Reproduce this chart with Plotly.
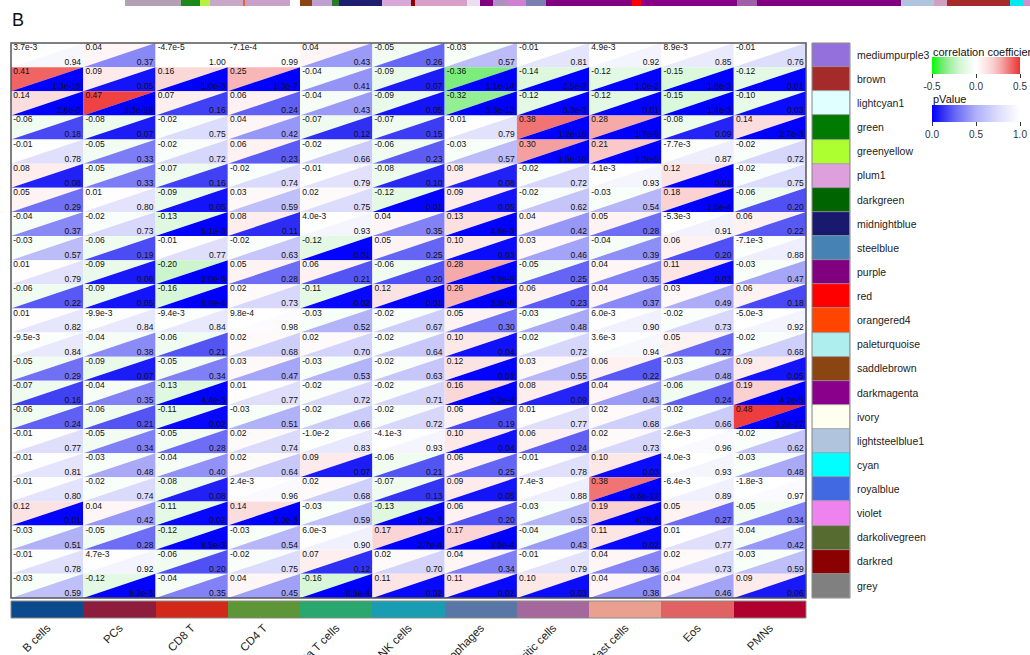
import numpy as np
import plotly.graph_objects as go
from plotly.colors import sample_colorscale

W, H = 1030, 655

cell_types = ["B cells", "PCs", "CD8 T", "CD4 T", "Delta T cells", "NK cells",
              "Macrophages", "Dendritic cells", "Mast cells", "Eos", "PMNs"]
cell_colors = ["#0B4A8C", "#8E1C3C", "#D1281A", "#5E9637", "#28A86E", "#1A9DB2",
               "#5876A6", "#A5689C", "#E9A090", "#E06262", "#B0002E"]

modules = ["mediumpurple3", "brown", "lightcyan1", "green", "greenyellow", "plum1",
           "darkgreen", "midnightblue", "steelblue", "purple", "red", "orangered4",
           "paleturquoise", "saddlebrown", "darkmagenta", "ivory", "lightsteelblue1",
           "cyan", "royalblue", "violet", "darkolivegreen", "darkred", "grey"]
module_colors = ["#9370DB", "#A52A2A", "#E0FFFF", "#007A00", "#ADFF2F", "#DDA0DD",
                 "#006400", "#191970", "#4682B4", "#800080", "#FF0000", "#FF4500",
                 "#AFEEEE", "#8B4513", "#8B008B", "#FFFFF0", "#B0C4DE", "#00FFFF",
                 "#4169E1", "#EE82EE", "#556B2F", "#8B0000", "#808080"]

# correlation coefficients (rows = modules, columns = cell types)
cor = [
    [3.7e-3, 0.04, -4.7e-5, -7.1e-4, 0.04, -0.05, -0.03, -0.01, 4.9e-3, 8.9e-3, -0.01],
    [0.41, 0.09, 0.16, 0.25, -0.04, -0.09, -0.36, -0.14, -0.12, -0.15, -0.12],
    [0.14, 0.47, 0.07, 0.06, -0.04, -0.09, -0.32, -0.12, -0.12, -0.15, -0.10],
    [-0.06, -0.08, -0.02, 0.04, -0.07, -0.07, -0.01, 0.38, 0.28, -0.08, 0.14],
    [-0.01, -0.05, -0.02, 0.06, -0.02, -0.06, -0.03, 0.30, 0.21, -7.7e-3, -0.02],
    [0.08, -0.05, -0.07, -0.02, -0.01, -0.08, 0.08, -0.02, 4.1e-3, 0.12, -0.02],
    [0.05, 0.01, -0.09, 0.03, 0.02, -0.12, 0.09, -0.02, -0.03, 0.18, -0.06],
    [-0.04, -0.02, -0.13, 0.08, 4.0e-3, 0.04, 0.13, 0.04, 0.05, -5.3e-3, 0.06],
    [-0.03, -0.06, -0.01, -0.02, -0.12, 0.05, 0.10, 0.03, -0.04, 0.06, -7.1e-3],
    [0.01, -0.09, -0.20, 0.05, 0.06, -0.06, 0.28, -0.05, 0.04, 0.11, -0.03],
    [-0.06, -0.09, -0.16, 0.02, -0.11, 0.12, 0.26, 0.06, 0.04, 0.03, 0.06],
    [0.01, -9.9e-3, -9.4e-3, 9.8e-4, -0.03, -0.02, 0.05, -0.03, 6.0e-3, -0.02, -5.0e-3],
    [-9.5e-3, -0.04, -0.06, 0.02, 0.02, -0.02, 0.10, -0.02, 3.6e-3, 0.05, -0.02],
    [-0.05, -0.09, -0.05, 0.03, -0.03, -0.02, 0.12, 0.03, 0.06, -0.03, 0.09],
    [-0.07, -0.04, -0.13, 0.01, -0.02, -0.02, 0.16, 0.08, 0.04, -0.06, 0.19],
    [-0.06, -0.06, -0.11, -0.03, -0.02, -0.02, 0.06, 0.01, 0.02, -0.02, 0.48],
    [-0.01, -0.05, -0.05, 0.02, -0.00998, -4.1e-3, 0.10, 0.06, 0.02, -2.6e-3, -0.02],
    [-0.01, -0.03, -0.04, 0.02, 0.09, -0.06, 0.06, -0.01, 0.10, -4.0e-3, -0.03],
    [-0.01, -0.02, -0.08, 2.4e-3, 0.02, -0.07, 0.09, 7.4e-3, 0.38, -6.4e-3, -1.8e-3],
    [0.12, 0.04, -0.11, 0.14, -0.03, -0.13, 0.06, -0.03, 0.19, 0.05, -0.05],
    [-0.03, -0.05, -0.12, -0.03, 6.0e-3, 0.17, 0.17, -0.04, 0.11, 0.01, -0.04],
    [-0.01, 4.7e-3, -0.06, -0.02, 0.07, 0.02, 0.04, -0.01, 0.04, 0.02, -0.03],
    [-0.03, -0.12, -0.04, 0.04, -0.16, 0.11, 0.11, 0.10, 0.04, 0.04, 0.09],
]

# p values for the same pairs
pval = [
    [0.94, 0.37, 0.9999, 0.99, 0.43, 0.26, 0.57, 0.81, 0.92, 0.85, 0.76],
    [1.3e-19, 0.05, 1.0e-3, 1.3e-7, 0.41, 0.07, 1.1e-14, 2.5e-3, 0.00998, 1.8e-3, 0.01],
    [2.6e-3, 3.3e-28, 0.16, 0.24, 0.43, 0.05, 3.3e-12, 8.3e-3, 0.01, 1.4e-3, 0.03],
    [0.18, 0.07, 0.75, 0.42, 0.12, 0.15, 0.79, 1.2e-16, 1.7e-9, 0.09, 2.7e-3],
    [0.78, 0.33, 0.72, 0.23, 0.66, 0.23, 0.57, 1.6e-10, 1.3e-5, 0.87, 0.72],
    [0.08, 0.33, 0.16, 0.74, 0.79, 0.10, 0.08, 0.72, 0.93, 0.01, 0.75],
    [0.29, 0.80, 0.05, 0.59, 0.75, 0.01, 0.05, 0.62, 0.54, 1.5e-4, 0.20],
    [0.37, 0.73, 5.1e-3, 0.11, 0.93, 0.35, 4.6e-3, 0.42, 0.28, 0.91, 0.22],
    [0.57, 0.19, 0.77, 0.63, 0.01, 0.25, 0.03, 0.46, 0.39, 0.20, 0.88],
    [0.79, 0.06, 2.0e-5, 0.28, 0.21, 0.20, 3.2e-9, 0.25, 0.35, 0.03, 0.47],
    [0.22, 0.05, 6.9e-4, 0.73, 0.02, 0.01, 3.3e-8, 0.23, 0.37, 0.49, 0.18],
    [0.82, 0.84, 0.84, 0.98, 0.52, 0.67, 0.30, 0.48, 0.90, 0.73, 0.92],
    [0.84, 0.38, 0.21, 0.68, 0.70, 0.64, 0.04, 0.72, 0.94, 0.27, 0.68],
    [0.29, 0.07, 0.34, 0.47, 0.53, 0.63, 0.01, 0.55, 0.22, 0.48, 0.05],
    [0.16, 0.35, 4.4e-3, 0.77, 0.72, 0.71, 5.2e-4, 0.09, 0.43, 0.24, 4.2e-5],
    [0.24, 0.21, 0.02, 0.51, 0.66, 0.72, 0.19, 0.77, 0.68, 0.66, 3.2e-27],
    [0.77, 0.34, 0.28, 0.74, 0.83, 0.93, 0.04, 0.24, 0.73, 0.96, 0.62],
    [0.81, 0.48, 0.40, 0.64, 0.07, 0.21, 0.25, 0.78, 0.03, 0.93, 0.48],
    [0.80, 0.74, 0.08, 0.96, 0.68, 0.13, 0.05, 0.88, 6.6e-17, 0.89, 0.97],
    [0.01, 0.42, 0.02, 3.0e-3, 0.59, 6.2e-3, 0.20, 0.53, 4.7e-5, 0.27, 0.34],
    [0.51, 0.28, 8.5e-3, 0.54, 0.90, 2.7e-4, 3.9e-4, 0.43, 0.02, 0.77, 0.42],
    [0.78, 0.92, 0.20, 0.75, 0.12, 0.70, 0.34, 0.79, 0.36, 0.73, 0.59],
    [0.59, 9.3e-3, 0.35, 0.45, 8.5e-4, 0.02, 0.02, 0.03, 0.38, 0.46, 0.06],
]

# module colour strip of the gene dendrogram (colour, number of genes)
strip_colors = ["#B4A0B4", "#1A8A1A", "#B8F040", "#C8A8C8", "#F06030", "#C8A0C8",
                "#FFFFFF", "#8B4513", "#C0A0D0", "#2A7A2A", "#1E1E70", "#D8A8D8",
                "#8B0000", "#D8A0C8", "#E8E0F0", "#800080", "#B090C0", "#D080D0",
                "#7A80B0", "#800080", "#FF0000", "#880088", "#A060A8", "#800080",
                "#B0C4DE", "#D0A0C0", "#A52A2A", "#00E8F0", "#D090D0"]
strip_sizes = [56, 19, 10, 33, 2, 45, 10, 12, 20, 7, 43, 29, 4, 52, 13, 13, 14, 19,
               20, 86, 9, 96, 20, 144, 33, 13, 63, 13, 7]

cor_scale = [[0.0, "rgb(0,255,0)"], [0.1, "rgb(100,235,100)"], [0.2, "rgb(160,240,160)"],
             [0.3, "rgb(205,245,205)"], [0.4, "rgb(232,250,232)"], [0.5, "rgb(255,255,255)"],
             [0.6, "rgb(253,232,232)"], [0.7, "rgb(250,205,205)"], [0.8, "rgb(245,160,160)"],
             [0.9, "rgb(240,105,105)"], [1.0, "rgb(238,50,50)"]]
p_scale = [[0.0, "rgb(0,0,255)"], [0.1, "rgb(40,40,245)"], [0.25, "rgb(100,100,245)"],
           [0.5, "rgb(175,175,248)"], [0.75, "rgb(220,220,252)"], [1.0, "rgb(255,255,255)"]]

FONT = "Liberation Sans, Arial, sans-serif"


def fmt(v):
    if abs(v) < 0.01 and v != 0:
        m, e = ("%.1e" % v).split("e")
        return "%se%d" % (m, int(e))
    return "%.2f" % v


def px_x(px):
    return px / W


def px_y(py):
    return 1 - py / H


nr, nc = len(modules), len(cell_types)
cor_arr = np.array(cor)
p_arr = np.array(pval)

shapes = []
for r in range(nr):
    cfill = sample_colorscale(cor_scale, list((cor_arr[r] + 0.5) / 1.0))
    pfill = sample_colorscale(p_scale, list(p_arr[r]))
    for c in range(nc):
        x0, x1 = c - 0.5, c + 0.5
        y0, y1 = r - 0.5, r + 0.5
        # upper-left triangle: correlation
        shapes.append(dict(type="path", xref="x", yref="y", layer="below",
                           path=f"M{x0},{y0} L{x1},{y0} L{x0},{y1} Z",
                           fillcolor=cfill[c], line=dict(width=0)))
        # lower-right triangle: p value
        shapes.append(dict(type="path", xref="x", yref="y", layer="below",
                           path=f"M{x1},{y0} L{x1},{y1} L{x0},{y1} Z",
                           fillcolor=pfill[c], line=dict(width=0)))

# thin separators between cells
for c in range(1, nc):
    shapes.append(dict(type="line", xref="x", yref="y domain", layer="below",
                       x0=c - 0.5, x1=c - 0.5, y0=0, y1=1,
                       line=dict(color="rgba(255,255,255,0.8)", width=1)))
for r in range(1, nr):
    shapes.append(dict(type="line", xref="x domain", yref="y", layer="below",
                       x0=0, x1=1, y0=r - 0.5, y1=r - 0.5,
                       line=dict(color="rgba(255,255,255,0.8)", width=1)))
# frames
shapes.append(dict(type="rect", xref="x domain", yref="y domain", x0=0, x1=1, y0=0, y1=1,
                   line=dict(color="#555555", width=1.5)))
shapes.append(dict(type="rect", xref="x domain", yref="y2 domain", x0=0, x1=1, y0=0, y1=1,
                   line=dict(color="#888888", width=1)))
shapes.append(dict(type="rect", xref="x3 domain", yref="y3 domain", x0=0, x1=1, y0=0, y1=1,
                   line=dict(color="#888888", width=1)))

fig = go.Figure()

# correlation labels (top-left) and p-value labels (bottom-right)
cx, cy, ct = [], [], []
px_, py_, pt = [], [], []
for r in range(nr):
    for c in range(nc):
        cx.append(c - 0.47)
        cy.append(r - 0.47)
        ct.append(fmt(cor[r][c]))
        px_.append(c + 0.47)
        py_.append(r + 0.5)
        pt.append(fmt(pval[r][c]))

fig.add_trace(go.Scatter(x=cx, y=cy, text=ct, mode="text", textposition="bottom right",
                         textfont=dict(family=FONT, size=8.5, color="#111111"),
                         hoverinfo="skip", showlegend=False))
fig.add_trace(go.Scatter(x=px_, y=py_, text=pt, mode="text", textposition="top left",
                         textfont=dict(family=FONT, size=8.5, color="#111111"),
                         hoverinfo="skip", showlegend=False))

# colour scales
gx = [c for r in range(nr) for c in range(nc)]
gy = [r for r in range(nr) for c in range(nc)]
cb_common = dict(orientation="h", x=px_x(932), xanchor="left", yanchor="top",
                 lenmode="pixels", len=88, thickness=17, xpad=0, ypad=0, outlinewidth=0,
                 ticks="outside", ticklen=4, tickcolor="#333",
                 tickfont=dict(family=FONT, size=10, color="#333"))
fig.add_trace(go.Scatter(
    x=gx, y=gy, mode="markers", hoverinfo="skip", showlegend=False,
    marker=dict(size=0, opacity=0, color=cor_arr.ravel(), colorscale=cor_scale,
                cmin=-0.5, cmax=0.5, showscale=True,
                colorbar=dict(cb_common, y=px_y(57), tickvals=[-0.5, 0, 0.5],
                              ticktext=["-0.5", "0.0", "0.5"]))))
fig.add_trace(go.Scatter(
    x=gx, y=gy, mode="markers", hoverinfo="skip", showlegend=False,
    marker=dict(size=0, opacity=0, color=p_arr.ravel(), colorscale=p_scale,
                cmin=0, cmax=1, showscale=True,
                colorbar=dict(cb_common, y=px_y(105), tickvals=[0, 0.5, 1],
                              ticktext=["0.0", "0.5", "1.0"]))))

# cell type colour strip
fig.add_trace(go.Bar(x=list(range(nc)), y=[1] * nc, width=1, xaxis="x", yaxis="y2",
                     marker=dict(color=cell_colors, line=dict(width=0)),
                     hoverinfo="skip", showlegend=False))
# module colour swatches
fig.add_trace(go.Bar(x=[1] * nr, y=list(range(nr)), width=1, orientation="h",
                     xaxis="x3", yaxis="y3",
                     marker=dict(color=module_colors, line=dict(color="#999999", width=0.6)),
                     hoverinfo="skip", showlegend=False))
# dendrogram colour strip
fig.add_trace(go.Bar(x=strip_sizes, y=[0] * len(strip_sizes),
                     base=list(np.cumsum([0] + strip_sizes[:-1])), width=1,
                     orientation="h", xaxis="x4", yaxis="y4",
                     marker=dict(color=strip_colors, line=dict(width=0)),
                     hoverinfo="skip", showlegend=False))

grid_y = [px_y(598), px_y(43)]
ann = [dict(text="B", x=px_x(10), y=px_y(20), xanchor="left", yanchor="middle",
            font=dict(family="Liberation Sans Narrow, " + FONT, size=18, color="#111")),
       dict(text="correlation coefficient", x=px_x(931), y=px_y(52), xanchor="left",
            yanchor="middle", font=dict(family=FONT, size=11, color="#111")),
       dict(text="pValue", x=px_x(931), y=px_y(99), xanchor="left",
            yanchor="middle", font=dict(family=FONT, size=11, color="#111"))]
for a in ann:
    a.update(xref="paper", yref="paper", showarrow=False)

fig.update_layout(
    width=W, height=H, margin=dict(l=0, r=0, t=0, b=0),
    paper_bgcolor="white", plot_bgcolor="white", bargap=0,
    xaxis=dict(domain=[px_x(11), px_x(806)], range=[-0.5, nc - 0.5], anchor="y2",
               tickvals=list(range(nc)), ticktext=cell_types, tickangle=-45,
               ticks="", showgrid=False, zeroline=False, showline=False,
               tickfont=dict(family=FONT, size=11.5, color="#222"), automargin=False),
    yaxis=dict(domain=grid_y, range=[nr - 0.5, -0.5], anchor="x", visible=False),
    yaxis2=dict(domain=[px_y(618), px_y(601)], range=[0, 1], anchor="x", visible=False),
    xaxis3=dict(domain=[px_x(812), px_x(850)], range=[0, 1], anchor="y3", visible=False),
    yaxis3=dict(domain=grid_y, range=[nr - 0.5, -0.5], anchor="x3", side="right",
                tickvals=list(range(nr)), ticktext=modules, ticks="", showgrid=False,
                zeroline=False, showline=False, ticklabelstandoff=6, automargin=False,
                tickfont=dict(family=FONT, size=10.5, color="#222")),
    xaxis4=dict(domain=[px_x(125), 1], range=[0, sum(strip_sizes)], anchor="y4",
                visible=False),
    yaxis4=dict(domain=[px_y(6), 1], range=[-0.5, 0.5], anchor="x4", visible=False),
    shapes=shapes,
    annotations=ann,
)

fig.write_html("out.html")
